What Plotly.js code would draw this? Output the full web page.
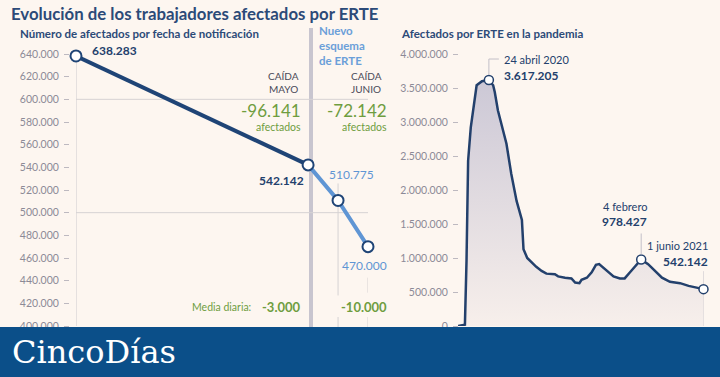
<!DOCTYPE html>
<html>
<head>
<meta charset="utf-8">
<script src="https://cdn.plot.ly/plotly-3.0.1.min.js"></script>
<style>
  html, body { margin: 0; padding: 0; background: #fdf6f0; }
  #chart { width: 720px; height: 377px; }
</style>
</head>
<body>
<div id="chart"></div>
<script>
// ---- Left panel data: afectados por fecha de notificación ----
const leftDates  = ['2021-05-01', '2021-06-01', '2021-06-05', '2021-06-09'];
const leftValues = [638283, 542142, 510775, 470000];
const dropMonths = ['MAYO', 'JUNIO'];
const dailyAverage = [-3000, -10000];
const leftGridValues = [600000, 500000];

// ---- Right panel data: afectados por ERTE en la pandemia ----
const seriesDates = [
  '2020-02-26','2020-03-10','2020-03-13','2020-03-16','2020-03-21','2020-03-29',
  '2020-04-01','2020-04-11','2020-04-24','2020-05-02','2020-05-05','2020-05-11',
  '2020-05-20','2020-05-27','2020-06-05','2020-06-15','2020-06-25','2020-06-28',
  '2020-07-05','2020-07-10','2020-07-22','2020-08-01','2020-08-10','2020-08-26',
  '2020-09-01','2020-09-14','2020-09-26','2020-10-03','2020-10-11','2020-10-15',
  '2020-10-25','2020-11-03','2020-11-11','2020-11-17','2020-11-25','2020-12-04',
  '2020-12-14','2020-12-26','2021-01-04','2021-01-14','2021-01-23','2021-02-04',
  '2021-02-17','2021-03-02','2021-03-15','2021-03-30','2021-04-18','2021-05-04',
  '2021-06-01'
];
const seriesValues = [
  0, 20000, 960000, 2430000, 2920000, 3420000,
  3540000, 3600000, 3617205, 3540000, 3440000, 3170000,
  2880000, 2680000, 2240000, 1840000, 1560000, 1130000,
  1000000, 960000, 870000, 810000, 770000, 760000,
  730000, 710000, 700000, 640000, 630000, 680000,
  710000, 790000, 900000, 910000, 860000, 800000,
  730000, 700000, 700000, 790000, 870000, 978427,
  910000, 810000, 710000, 650000, 630000, 590000,
  542142
];
const highlightDates  = ['2020-04-24', '2021-02-04', '2021-06-01'];
const highlightValues = [3617205, 978427, 542142];
const highlightLabels = ['24 abril 2020', '4 febrero', '1 junio 2021'];
const newYearDate = '2021-01-01';

// ---- helpers ----
const W = 720, H = 377, TOP = 54, BOT = 326;
const X = px => px / W;
const Y = py => (BOT - py) / (BOT - TOP);
function fmt(n) {
  const s = String(Math.abs(Math.round(n))).replace(/\B(?=(\d{3})+(?!\d))/g, '.');
  return (n < 0 ? '-' : '') + s;
}

const FONT = 'Lato, "Open Sans", sans-serif';
const DARK = '#1f4476';
const LIGHT = '#5f95d4';
const NAVY = '#23406c';
const GREEN = '#6f9d3f';
const TITLE = '#2c4a78';
const GREY_TXT = '#8c8a97';
const THIN = '#d6d2d3';

const traces = [
  { x: leftDates.slice(0, 2), y: leftValues.slice(0, 2), xaxis: 'x', yaxis: 'y',
    mode: 'lines', line: { color: DARK, width: 4 }, cliponaxis: false, hoverinfo: 'skip' },
  { x: leftDates.slice(1), y: leftValues.slice(1), xaxis: 'x', yaxis: 'y',
    mode: 'lines', line: { color: LIGHT, width: 4 }, cliponaxis: false, hoverinfo: 'skip' },
  { x: leftDates, y: leftValues, xaxis: 'x', yaxis: 'y', mode: 'markers', cliponaxis: false,
    marker: { size: 11, color: '#ffffff', line: { color: DARK, width: 2 } }, hoverinfo: 'skip' },
  { x: seriesDates, y: seriesValues, xaxis: 'x2', yaxis: 'y2', mode: 'lines',
    fill: 'tozeroy', fillcolor: 'rgba(222,217,225,1)',
    fillgradient: { type: 'vertical', start: 0, stop: 3617205,
      colorscale: [[0, 'rgba(247,239,235,1)'], [1, 'rgba(204,200,214,1)']] },
    line: { color: NAVY, width: 2.5 }, cliponaxis: false, hoverinfo: 'skip' },
  { x: highlightDates, y: highlightValues, xaxis: 'x2', yaxis: 'y2', mode: 'markers', cliponaxis: false,
    marker: { size: 9, color: '#ffffff', line: { color: NAVY, width: 1.5 } }, hoverinfo: 'skip' }
];

const tickFont = { family: FONT, size: 10.5, color: GREY_TXT };

const shapes = [];
// left horizontal reference lines
leftGridValues.forEach(v => shapes.push({ type: 'line', layer: 'below', xref: 'x', yref: 'y',
  x0: leftDates[0], x1: leftDates[leftDates.length - 1], y0: v, y1: v,
  line: { color: THIN, width: 1 } }));
// left axis line under the first point
shapes.push({ type: 'line', layer: 'below', xref: 'x', yref: 'y', x0: leftDates[0], x1: leftDates[0],
  y0: 400000, y1: leftValues[0], line: { color: THIN, width: 1.2 } });
// divider "Nuevo esquema de ERTE"
shapes.push({ type: 'line', layer: 'below', xref: 'paper', yref: 'paper', x0: X(311), x1: X(311),
  y0: Y(340), y1: Y(28), line: { color: '#c8c5cf', width: 4 } });
// thin guides at June points
shapes.push({ type: 'line', layer: 'below', xref: 'x', yref: 'y', xsizemode: 'pixel', xanchor: leftDates[2],
  x0: 0, x1: 0, ysizemode: 'pixel', yanchor: leftValues[2], y0: 5, y1: 17, line: { color: THIN, width: 1 } });
shapes.push({ type: 'line', layer: 'below', xref: 'x', yref: 'y', xsizemode: 'pixel', xanchor: leftDates[2],
  x0: 0, x1: 0, ysizemode: 'pixel', yanchor: leftValues[2], y0: -6, y1: -95, line: { color: THIN, width: 1 } });
shapes.push({ type: 'line', layer: 'below', xref: 'x', yref: 'paper', xsizemode: 'pixel', xanchor: leftDates[2],
  x0: 0, x1: 0, y0: Y(340), y1: Y(317), line: { color: THIN, width: 1 } });
shapes.push({ type: 'line', layer: 'below', xref: 'x', yref: 'y', xsizemode: 'pixel', xanchor: leftDates[3],
  x0: 0, x1: 0, ysizemode: 'pixel', yanchor: leftValues[3], y0: -31, y1: -46, line: { color: THIN, width: 1 } });
shapes.push({ type: 'line', layer: 'below', xref: 'x', yref: 'paper', xsizemode: 'pixel', xanchor: leftDates[3],
  x0: 0, x1: 0, y0: Y(340), y1: Y(317), line: { color: THIN, width: 1 } });
// right panel leader lines
const LEAD = '#c3bfc8';
shapes.push({ type: 'line', xref: 'x2', yref: 'y2', xsizemode: 'pixel', xanchor: highlightDates[0],
  x0: 0, x1: 0, ysizemode: 'pixel', yanchor: highlightValues[0], y0: 5, y1: 21, line: { color: LEAD, width: 1 } });
shapes.push({ type: 'line', xref: 'x2', yref: 'y2', xsizemode: 'pixel', xanchor: highlightDates[0],
  x0: 0, x1: 10, ysizemode: 'pixel', yanchor: highlightValues[0], y0: 21, y1: 21, line: { color: LEAD, width: 1 } });
shapes.push({ type: 'line', xref: 'x2', yref: 'y2', xsizemode: 'pixel', xanchor: highlightDates[1],
  x0: 0, x1: 0, ysizemode: 'pixel', yanchor: highlightValues[1], y0: 5, y1: 26, line: { color: LEAD, width: 1 } });
shapes.push({ type: 'line', xref: 'x2', yref: 'y2', xsizemode: 'pixel', xanchor: highlightDates[2],
  x0: 0, x1: 0, ysizemode: 'pixel', yanchor: highlightValues[2], y0: 5, y1: 18, line: { color: LEAD, width: 1 } });
shapes.push({ type: 'line', layer: 'below', xref: 'x2', yref: 'y2', xsizemode: 'pixel', xanchor: highlightDates[2],
  x0: 0, x1: 0, ysizemode: 'pixel', yanchor: highlightValues[2], y0: -5, y1: -45, line: { color: LEAD, width: 1 } });
shapes.push({ type: 'line', layer: 'below', xref: 'x2', yref: 'y2', xsizemode: 'pixel', xanchor: newYearDate,
  x0: 0, x1: 0, ysizemode: 'pixel', yanchor: 0, y0: -5, y1: 46, line: { color: LEAD, width: 1 } });
// bottom banner
shapes.push({ type: 'rect', layer: 'above', xref: 'paper', yref: 'paper', x0: -0.01, x1: 1.01,
  y0: Y(380), y1: Y(327), fillcolor: '#0b4f89', line: { width: 0 } });

const ann = [];
function txt(text, x, y, opts) {
  ann.push(Object.assign({ text, x, y, xref: 'paper', yref: 'paper', showarrow: false,
    xanchor: 'left', yanchor: 'middle', borderpad: 0, font: { family: FONT, size: 11, color: NAVY } }, opts || {}));
}
// subtitles
txt('<b>Número de afectados por fecha de notificación</b>', X(19), Y(33), { font: { family: FONT, size: 11.5, color: TITLE } });
txt('<b>Afectados por ERTE en la pandemia</b>', X(400), Y(33), { font: { family: FONT, size: 11.5, color: TITLE } });
// nuevo esquema
txt('<b>Nuevo<br>esquema<br>de ERTE</b>', X(318), Y(45.5), { align: 'left',
  font: { family: FONT, size: 11.5, color: '#6b9fd9' } });
// caída labels
const drops = [leftValues[0] - leftValues[1], leftValues[1] - leftValues[3]];
const dropCx = [283.5, 366], dropRight = [302, 388];
drops.forEach((d, i) => {
  txt('CAÍDA', X(dropCx[i]), Y(76.2), { xanchor: 'center', font: { family: FONT, size: 10, color: '#4a4a58' } });
  txt(dropMonths[i], X(dropCx[i]), Y(88.5), { xanchor: 'center', font: { family: FONT, size: 10, color: '#4a4a58' } });
  txt(fmt(-d), X(dropRight[i]), Y(110.5), { xanchor: 'right', font: { family: FONT, size: 17, color: GREEN } });
  txt('afectados', X(dropRight[i]), Y(127), { xanchor: 'right', font: { family: FONT, size: 10.5, color: GREEN } });
});
// media diaria
txt('Media diaria:', X(252), Y(307), { xanchor: 'right', font: { family: FONT, size: 10.5, color: GREEN } });
txt('<b>' + fmt(dailyAverage[0]) + '</b>', X(302), Y(307), { xanchor: 'right', font: { family: FONT, size: 13, color: GREEN } });
txt('<b>' + fmt(dailyAverage[1]) + '</b>', X(388), Y(307), { xanchor: 'right', font: { family: FONT, size: 13, color: GREEN } });

// value labels, anchored on the data points
function dataLabel(text, xr, yr, x, y, xanchor, xshift, yshift, font) {
  ann.push({ text, x, y, xref: xr, yref: yr, showarrow: false, xanchor, yanchor: 'middle',
    xshift, yshift, borderpad: 0, font });
}
dataLabel('<b>' + fmt(leftValues[0]) + '</b>', 'x', 'y', leftDates[0], leftValues[0], 'left', 15, 5,
  { family: FONT, size: 12, color: NAVY });
dataLabel('<b>' + fmt(leftValues[1]) + '</b>', 'x', 'y', leftDates[1], leftValues[1], 'right', -3, -16,
  { family: FONT, size: 12, color: NAVY });
dataLabel(fmt(leftValues[2]), 'x', 'y', leftDates[2], leftValues[2], 'center', 13, 26,
  { family: FONT, size: 12, color: LIGHT });
dataLabel(fmt(leftValues[3]), 'x', 'y', leftDates[3], leftValues[3], 'center', -4, -19,
  { family: FONT, size: 12, color: LIGHT });

// right highlight labels
const hlAnchor = ['left', 'right', 'right'];
const hlShiftX = [14, 7, 5];
const hlShiftY = [[21, 5], [53, 38], [44, 28]];
highlightDates.forEach((d, i) => {
  dataLabel(highlightLabels[i], 'x2', 'y2', d, highlightValues[i], hlAnchor[i], hlShiftX[i], hlShiftY[i][0],
    { family: FONT, size: 11, color: NAVY });
  dataLabel('<b>' + fmt(highlightValues[i]) + '</b>', 'x2', 'y2', d, highlightValues[i], hlAnchor[i], hlShiftX[i], hlShiftY[i][1],
    { family: FONT, size: 12, color: NAVY });
});

// brand
txt('CincoDías', X(11), Y(352), { font: { family: '"DejaVu Serif", serif', size: 32, color: '#ffffff' } });

const layout = {
  width: W, height: H,
  margin: { l: 0, r: 0, t: TOP, b: H - BOT, pad: 0 },
  paper_bgcolor: '#fdf6f0', plot_bgcolor: 'rgba(0,0,0,0)',
  separators: ',.',
  showlegend: false,
  hovermode: false,
  title: { text: '<b>Evolución de los trabajadores afectados por ERTE</b>', x: X(11), xanchor: 'left',
    y: 1 - 14 / H, yanchor: 'middle', font: { family: FONT, size: 16.8, color: TITLE } },
  xaxis: { type: 'date', domain: [X(76), X(368)], range: [leftDates[0], leftDates[3]], visible: false },
  yaxis: { anchor: 'free', position: X(69), range: [400000, 640000], dtick: 20000, tick0: 400000,
    tickformat: ',d', ticks: 'outside', ticklen: 5, tickwidth: 1, tickcolor: '#bdb9c0',
    showline: false, showgrid: false, zeroline: false, tickfont: tickFont, ticklabelstandoff: 3 },
  xaxis2: { type: 'date', domain: [X(458), X(703.5)], range: [seriesDates[0], seriesDates[seriesDates.length - 1]],
    anchor: 'y2', visible: false },
  yaxis2: { anchor: 'free', position: X(458), range: [0, 4000000], dtick: 500000,
    tickformat: ',d', ticks: 'outside', ticklen: 5, tickwidth: 1, tickcolor: '#bdb9c0',
    showline: false, showgrid: false, zeroline: false, tickfont: tickFont, ticklabelstandoff: 3 },
  shapes, annotations: ann
};

Plotly.newPlot('chart', traces, layout, { staticPlot: true, displayModeBar: false });
</script>
</body>
</html>
